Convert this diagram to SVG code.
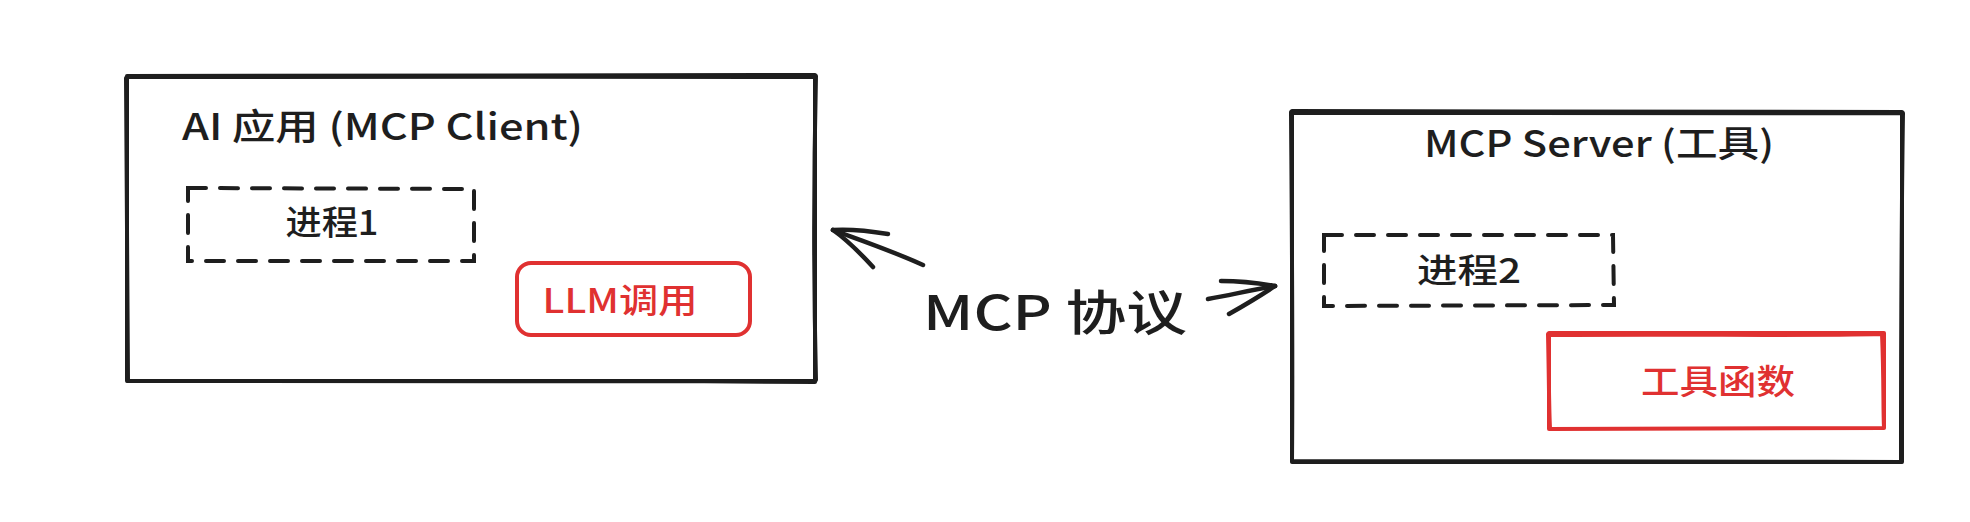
<svg xmlns="http://www.w3.org/2000/svg" width="1970" height="522" viewBox="0 0 1970 522">
<style>
.box{fill:none;stroke:#1e1e1e;stroke-width:4;stroke-linecap:round;stroke-linejoin:round}
.dash{fill:none;stroke:#1e1e1e;stroke-width:4;stroke-linecap:round;stroke-dasharray:18 14}
.red{fill:none;stroke:#e03131;stroke-width:4;stroke-linecap:round;stroke-linejoin:round}
.arr{fill:none;stroke:#1e1e1e;stroke-width:4.5;stroke-linecap:round;stroke-linejoin:round}
text{font-family:"Noto Sans CJK SC","Noto Sans",sans-serif;fill:#1e1e1e;font-weight:500}
.lbl{font-size:34px;text-anchor:middle;dominant-baseline:central}
.ttl{font-size:36px}
.r{fill:#e03131}
</style>
<rect width="1970" height="522" fill="#ffffff"/>
<g id="client">
<path class="box" d="M127 76 L815 75 L815 381 L127 381 Z"/>
<path class="box" d="M128 77 C300 78 600 76 814 77 M126 78 C127 200 127 300 128 380 M816 76 C813 200 814 300 816 380 M128 381 C400 382 600 380 815 382" stroke-width="1.5"/>
<text class="ttl" x="182" y="140" textLength="401" lengthAdjust="spacingAndGlyphs">AI 应用 (MCP Client)</text>
</g>
<g id="proc1">
<path class="dash" d="M188 188 L474 189 L474 261 L188 261 Z"/>
<text class="lbl" x="332" y="220" textLength="93" lengthAdjust="spacingAndGlyphs">进程1</text>
</g>
<g id="llm">
<rect class="red" x="517" y="263" width="233" height="72" rx="14"/>
<text class="lbl r" x="620" y="298" textLength="155" lengthAdjust="spacingAndGlyphs">LLM调用</text>
</g>
<g id="server">
<path class="box" d="M1292 111 L1902 112 L1902 462 L1292 462 Z"/>
<path class="box" d="M1293 113 C1500 112 1700 114 1901 113 M1291 112 C1292 250 1293 350 1292 461 M1903 113 C1901 250 1901 350 1901 461 M1293 461 C1500 463 1700 461 1901 462" stroke-width="1.5"/>
<text class="ttl" x="1424" y="157" textLength="350" lengthAdjust="spacingAndGlyphs">MCP Server (工具)</text>
</g>
<g id="proc2">
<path class="dash" d="M1324 235 L1613 235 L1614 305 L1324 306 Z"/>
<text class="lbl" x="1469" y="268" textLength="104" lengthAdjust="spacingAndGlyphs">进程2</text>
</g>
<g id="tools">
<path class="red" d="M1549 333 L1884 333 L1884 428 L1549 429 Z"/>
<path class="red" d="M1550 335 C1700 334 1800 336 1883 334 M1548 334 C1549 380 1549 410 1550 428 M1882 334 C1884 380 1883 410 1884 427" stroke-width="1.5"/>
<text class="lbl r" x="1718" y="379" textLength="154" lengthAdjust="spacingAndGlyphs">工具函数</text>
</g>
<g id="connectors">
<path class="arr" d="M923 265 C890 250 860 240 833 230"/>
<path class="arr" d="M833 230 C850 229 870 231 888 234"/>
<path class="arr" d="M833 230 C850 242 862 255 873 267"/>
<path class="arr" d="M1208 299 C1230 295 1252 290 1275 286"/>
<path class="arr" d="M1275 286 C1258 283 1240 281 1221 281"/>
<path class="arr" d="M1275 286 C1260 296 1245 305 1229 314"/>
</g>
<g id="protocol-label">
<text x="1055" y="309" font-size="48" text-anchor="middle" dominant-baseline="central" textLength="264" lengthAdjust="spacingAndGlyphs">MCP 协议</text>
</g>
</svg>
